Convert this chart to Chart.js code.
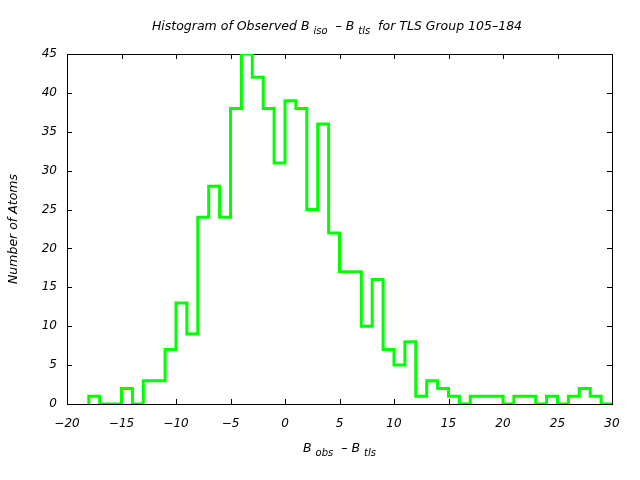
<!DOCTYPE html>
<html>
<head>
<meta charset="utf-8">
<script src="https://cdn.jsdelivr.net/npm/chart.js@4/dist/chart.umd.min.js"></script>
<style>
  html, body { margin: 0; padding: 0; background: #fff; }
  #wrap { width: 640px; height: 480px; }
</style>
</head>
<body>
<div id="wrap"><canvas id="histChart" width="640" height="480"></canvas></div>
<script>
// Histogram data: left edge of each bin (width 1) and the atom count in it
const binEdges = [-18, -17, -16, -15, -14, -13, -12, -11, -10, -9, -8, -7, -6, -5, -4, -3,
                  -2, -1, 0, 1, 2, 3, 4, 5, 6, 7, 8, 9, 10, 11, 12, 13, 14, 15, 16, 17, 18,
                  19, 20, 21, 22, 23, 24, 25, 26, 27, 28, 29];
const counts = [1, 0, 0, 2, 0, 3, 3, 7, 13, 9, 24, 28, 24, 38, 45, 42,
                38, 31, 39, 38, 25, 36, 22, 17, 17, 10, 16, 7, 5, 8, 1, 3, 2,
                1, 0, 1, 1, 1, 0, 1, 1, 0, 1, 0, 1, 2, 1, 0];
const binWidth = 1;
const xTicks = [-20, -15, -10, -5, 0, 5, 10, 15, 20, 25, 30];
const yTicks = [0, 5, 10, 15, 20, 25, 30, 35, 40, 45];

const FONT = '"DejaVu Sans", sans-serif';

// step outline: rise from zero at first edge, drop back to zero after last bin
const stepPoints = [{ x: binEdges[0], y: 0 }];
binEdges.forEach((e, i) => stepPoints.push({ x: e, y: counts[i] }));
stepPoints.push({ x: binEdges[binEdges.length - 1] + binWidth, y: 0 });

// draw text made of normal and subscript pieces
function drawRich(ctx, parts, x, y, size) {
    const subSize = Math.round(size * 0.8);
    let total = 0;
    parts.forEach(p => {
        ctx.font = 'italic ' + (p.sub ? subSize : size) + 'px ' + FONT;
        p.w = ctx.measureText(p.t).width;
        total += p.w;
    });
    let cx = x - total / 2;
    ctx.textAlign = 'left';
    ctx.textBaseline = 'middle';
    parts.forEach(p => {
        ctx.font = 'italic ' + (p.sub ? subSize : size) + 'px ' + FONT;
        ctx.fillText(p.t, cx, p.sub ? y + 4 : y);
        cx += p.w;
    });
}

const framePlugin = {
    id: 'frame',
    beforeDatasetsDraw(chart) {
        const { ctx, chartArea: a, scales } = chart;
        ctx.save();
        ctx.strokeStyle = '#000';
        ctx.lineWidth = 1;
        ctx.beginPath();
        xTicks.forEach(v => {
            const px = Math.round(scales.x.getPixelForValue(v)) + 0.5;
            ctx.moveTo(px, a.bottom); ctx.lineTo(px, a.bottom - 5);
            ctx.moveTo(px, a.top); ctx.lineTo(px, a.top + 5);
        });
        yTicks.forEach(v => {
            const py = Math.round(scales.y.getPixelForValue(v)) + 0.5;
            ctx.moveTo(a.left, py); ctx.lineTo(a.left + 5, py);
            ctx.moveTo(a.right, py); ctx.lineTo(a.right - 5, py);
        });
        ctx.stroke();
        ctx.strokeRect(Math.round(a.left) + 0.5, Math.round(a.top) + 0.5,
                       Math.round(a.right - a.left), Math.round(a.bottom - a.top));
        ctx.restore();
    },
    afterDraw(chart) {
        const { ctx, chartArea: a } = chart;
        ctx.save();
        ctx.fillStyle = '#000';
        drawRich(ctx, [
            { t: 'Histogram of Observed B ' }, { t: 'iso', sub: true },
            { t: '  \u2013 B ' }, { t: 'tls', sub: true },
            { t: '  for TLS Group 105\u2013184' }
        ], 337, 27, 12.5);
        drawRich(ctx, [
            { t: 'B ' }, { t: 'obs', sub: true },
            { t: '  \u2013 B ' }, { t: 'tls', sub: true }
        ], (a.left + a.right) / 2, 449, 12.5);
        ctx.translate(14, (a.top + a.bottom) / 2);
        ctx.rotate(-Math.PI / 2);
        ctx.font = 'italic 12.5px ' + FONT;
        ctx.textAlign = 'center';
        ctx.textBaseline = 'middle';
        ctx.fillText('Number of Atoms', 0, 0);
        ctx.restore();
    }
};

const minusLabel = v => String(v).replace('-', '\u2212');

new Chart(document.getElementById('histChart'), {
    type: 'line',
    data: {
        datasets: [{
            data: stepPoints,
            stepped: 'before',
            borderColor: '#00ff00',
            borderWidth: 3,
            pointRadius: 0,
            fill: false
        }]
    },
    options: {
        responsive: false,
        animation: false,
        layout: { padding: { top: 54, right: 28, left: 0, bottom: 0 } },
        plugins: {
            legend: { display: false },
            tooltip: { enabled: false }
        },
        scales: {
            x: {
                type: 'linear',
                min: -20,
                max: 30,
                afterBuildTicks: s => { s.ticks = xTicks.map(v => ({ value: v })); },
                afterFit: s => { s.height = 76; },
                grid: { display: false, drawTicks: false },
                border: { display: false },
                ticks: {
                    padding: 13,
                    color: '#000',
                    maxRotation: 0,
                    callback: minusLabel,
                    font: { family: FONT, size: 12, style: 'italic' }
                }
            },
            y: {
                min: 0,
                max: 45,
                afterBuildTicks: s => { s.ticks = yTicks.map(v => ({ value: v })); },
                afterFit: s => { s.width = 67; },
                grid: { display: false, drawTicks: false },
                border: { display: false },
                ticks: {
                    padding: 10,
                    color: '#000',
                    callback: minusLabel,
                    font: { family: FONT, size: 12, style: 'italic' }
                }
            }
        }
    },
    plugins: [framePlugin]
});
</script>
</body>
</html>
